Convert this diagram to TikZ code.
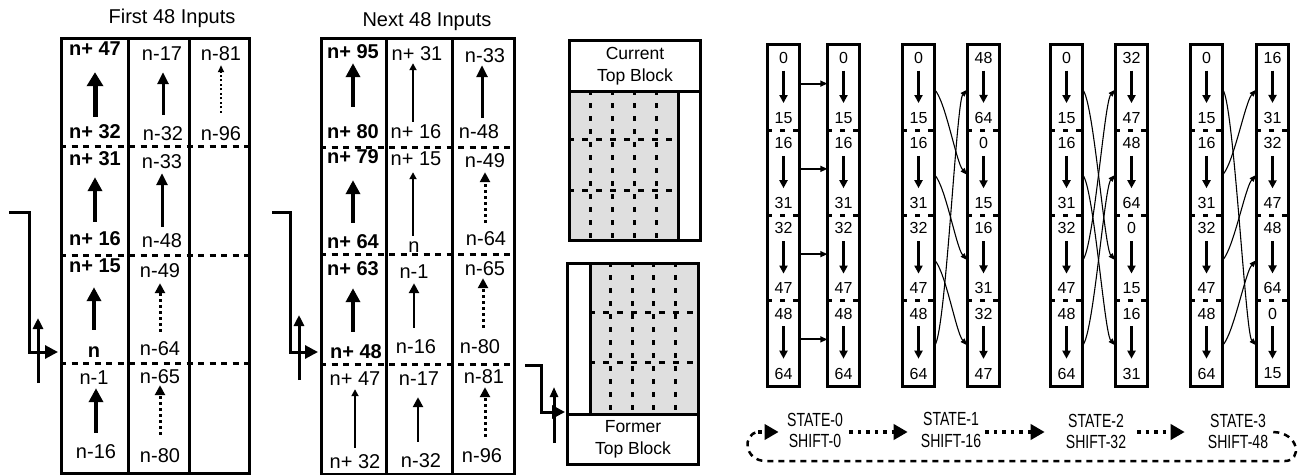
\documentclass[tikz,border=0pt]{standalone}
\usepackage{fontspec}
\setmainfont{Liberation Sans}
\newfontfamily\condfont[FakeStretch=0.74]{Liberation Sans}
\usetikzlibrary{arrows.meta,calc,fit}
\tikzset{
  box/.style={draw, line width=3pt, inner sep=0pt, anchor=north west},
  lab/.style={font=\fontsize{20}{24}\selectfont, inner sep=0pt, anchor=base, text height=14pt, text depth=0pt},
  blab/.style={lab, font=\fontsize{20}{24}\selectfont\bfseries},
  ttl/.style={font=\fontsize{20}{24}\selectfont, inner sep=0pt, anchor=base},
  hugearr/.style={line width=5pt, -{Triangle[length=14pt,width=16pt]}},
  bigarr/.style={line width=3.5pt, -{Triangle[length=14pt,width=14pt]}},
  midarr/.style={line width=3pt, -{Triangle[length=12pt,width=11pt]}},
  medarr/.style={line width=2.7pt, -{Triangle[length=10pt,width=10pt]}},
  thinarr/.style={line width=2.5pt, -{Triangle[length=7pt,width=7pt]}},
  dotarr/.style={line width=3pt, dash pattern=on 3pt off 3pt, -{Triangle[length=10pt,width=10pt]}},
  dotsm/.style={line width=2pt, dash pattern=on 2pt off 2.5pt, -{Triangle[length=7pt,width=6pt]}},
  hdash/.style={line width=3pt, dash pattern=on 6pt off 5.5pt},
  hdashg/.style={line width=3pt, dash pattern=on 6pt off 8pt},
  vdash/.style={line width=3pt, dash pattern=on 5pt off 8pt},
  inarr/.style={line width=3pt, -{Triangle[length=13pt,width=13pt]}},
  uparr/.style={line width=3pt, -{Triangle[length=11pt,width=10pt]}},
  seg/.style={minimum width=32pt, minimum height=85.25pt, inner sep=0pt},
  num/.style={font=\fontsize{16}{19}\selectfont, inner sep=0pt},
  colbox/.style={draw, line width=3pt, inner sep=0pt},
  sdash/.style={line width=3pt, dash pattern=on 5pt off 8pt},
  rarr/.style={line width=2.2pt, shorten <=7pt, shorten >=9pt, -{Triangle[length=8pt,width=8pt]}},
  harr/.style={line width=2pt, -{Triangle[length=7pt,width=6pt]}},
  carr/.style={line width=1.1pt, -{Triangle[length=7pt,width=5pt]}},
  leg/.style={font=\fontsize{19}{22}\condfont, inner sep=0pt, anchor=base},
  legarr/.style={line width=3.5pt, dash pattern=on 3.5pt off 5pt, -{Triangle[length=14pt,width=15pt]}},
  loopdash/.style={line width=2.5pt, dash pattern=on 6pt off 5pt},
}
\newcommand\statecol[3]{%
  \foreach \i/\tp/\bt in {#3}{%
    \node[seg] (#1\i) at (#2,{45+85.25*(\i-1)+42.625}) {};
    \node[num] (#1t\i) at ($(#1\i.north)+(0,13)$) {\tp};
    \node[num] (#1b\i) at ($(#1\i.north)+(0,73)$) {\bt};
    \draw[rarr] (#1t\i) -- (#1b\i);
  }%
  \node[colbox, fit=(#11)(#14)] (#1) {};
  \foreach \i in {2,3,4}{\draw[sdash] (#1\i.north west) -- (#1\i.north east);}%
}
\newcommand\crvd[2]{\draw[carr] ([yshift=-2pt]#1.east) .. controls +(11,12) and +(-11,-12) .. ([yshift=-2pt]#2.west);}
\newcommand\crvu[2]{\draw[carr] ([yshift=-2pt]#1.east) .. controls +(11,-12) and +(-11,12) .. ([yshift=-2pt]#2.west);}
\begin{document}
\begin{tikzpicture}[x=1pt,y=-1pt]
\useasboundingbox (0,0) rectangle (1308,474);

% ---------------- First 48 inputs ----------------
\node[ttl] (t1) at (172,23) {First 48 Inputs};
\node[box, minimum width=67pt, minimum height=435pt] (L1) at (60,37) {};
\node[box, minimum width=61pt, minimum height=435pt] (L2) at (127,37) {};
\node[box, minimum width=60pt, minimum height=435pt] (L3) at (188,37) {};
\foreach \y in {146,255,363} \draw[hdash] (60,\y) -- (248,\y);

\node[blab] (a1t) at (95,55) {n+ 47};
\node[blab] (a1b) at (95,138) {n+ 32};
\node[blab] (a2t) at (95,165) {n+ 31};
\node[blab] (a2b) at (95,245) {n+ 16};
\node[blab] (a3t) at (95,272) {n+ 15};
\node[blab] (a3b) at (94,357) {n};
\node[lab] (a4t) at (94,384) {n-1};
\node[lab] (a4b) at (96,458) {n-16};
\draw[hugearr, shorten <=7pt, shorten >=17pt] (a1b.north) -- (a1t.south);
\draw[bigarr, shorten <=9pt, shorten >=12pt] (a2b.north) -- (a2t.south);
\draw[bigarr, shorten <=13pt, shorten >=15pt] (a3b.north) -- (a3b.north |- a3t.south);
\draw[bigarr, shorten <=11pt, shorten >=4pt] (a4b.north) -- (a4b.north |- a4t.south);

\node[lab] (b1t) at (162,60) {n-17};
\node[lab] (b1b) at (163,140) {n-32};
\node[lab] (b2t) at (162,168) {n-33};
\node[lab] (b2b) at (162,247) {n-48};
\node[lab] (b3t) at (160,277) {n-49};
\node[lab] (b3b) at (160,355) {n-64};
\node[lab] (b4t) at (160,383) {n-65};
\node[lab] (b4b) at (160,462) {n-80};
\draw[midarr, shorten <=11pt, shorten >=12pt] (b1b.north) -- (b1b.north |- b1t.south);
\draw[midarr, shorten <=6pt, shorten >=5pt] (b2b.north) -- (b2b.north |- b2t.south);
\draw[dotarr, shorten <=9pt, shorten >=6pt] (b3b.north) -- (b3b.north |- b3t.south);
\draw[dotarr, shorten <=13pt, shorten >=2pt] (b4b.north) -- (b4b.north |- b4t.south);

\node[lab] (c1t) at (221,60) {n-81};
\node[lab] (c1b) at (221,140) {n-96};
\draw[dotsm, shorten <=13pt, shorten >=5pt] (c1b.north) -- (c1t.south);

\coordinate (inL) at (9,212);
\coordinate (inLk) at (29,352);
\draw[inarr, shorten >=2pt] (inL) -| (inLk) -- (inLk -| L1.west);
\coordinate (upL0) at (38,383);
\coordinate (upL1) at (38,318);
\draw[uparr] (upL0) -- (upL1);

% ---------------- Next 48 inputs ----------------
\node[ttl] (t2) at (427,26) {Next 48 Inputs};
\node[box, minimum width=65pt, minimum height=436pt] (M1) at (320,37) {};
\node[box, minimum width=66pt, minimum height=436pt] (M2) at (385,37) {};
\node[box, minimum width=62pt, minimum height=436pt] (M3) at (451,37) {};
\foreach \y in {147,254,364} \draw[hdash] (320,\y) -- (513,\y);

\node[blab] (d1t) at (353,58) {n+ 95};
\node[blab] (d1b) at (353,138) {n+ 80};
\node[blab] (d2t) at (353,163) {n+ 79};
\node[blab] (d2b) at (353,248) {n+ 64};
\node[blab] (d3t) at (353,275) {n+ 63};
\node[blab] (d3b) at (356,358) {n+ 48};
\node[lab] (d4t) at (355,385) {n+ 47};
\node[lab] (d4b) at (355,468) {n+ 32};
\draw[bigarr, shorten <=17pt, shorten >=5pt] (d1b.north) -- (d1t.south);
\draw[bigarr, shorten <=11pt, shorten >=17pt] (d2b.north) -- (d2t.south);
\draw[bigarr, shorten <=12pt, shorten >=13pt] (d3t.south |- d3b.north) -- (d3t.south);
\draw[thinarr, shorten <=6pt, shorten >=4pt] (d4b.north) -- (d4t.south);

\node[lab] (e1t) at (417,60) {n+ 31};
\node[lab] (e1b) at (416,138) {n+ 16};
\node[lab] (e2t) at (416,165) {n+ 15};
\node[lab] (e2b) at (414,252) {n};
\node[lab] (e3t) at (414,278) {n-1};
\node[lab] (e3b) at (416,353) {n-16};
\node[lab] (e4t) at (419,385) {n-17};
\node[lab] (e4b) at (421,467) {n-32};
\draw[thinarr, shorten <=2pt, shorten >=3pt] (e1b.north -| 413,0) -- (e1t.south -| 413,0);
\draw[thinarr, shorten <=2pt, shorten >=7pt] (e2b.north -| 413,0) -- (e2t.south -| 413,0);
\draw[medarr, shorten <=11pt, shorten >=5pt] (e3b.north -| 414,0) -- (e3t.south -| 414,0);
\draw[medarr, shorten <=11pt, shorten >=12pt] (e4b.north -| 418,0) -- (e4t.south -| 418,0);

\node[lab] (f1t) at (485,62) {n-33};
\node[lab] (f1b) at (479,138) {n-48};
\node[lab] (f2t) at (485,167) {n-49};
\node[lab] (f2b) at (486,245) {n-64};
\node[lab] (f3t) at (485,275) {n-65};
\node[lab] (f3b) at (480,353) {n-80};
\node[lab] (f4t) at (484,383) {n-81};
\node[lab] (f4b) at (482,462) {n-96};
\draw[midarr, shorten <=6pt, shorten >=3pt] (f1b.north -| 482,0) -- (f1t.south -| 482,0);
\draw[dotarr, shorten <=8pt, shorten >=5pt] (f2b.north -| 485,0) -- (f2t.south -| 485,0);
\draw[dotarr, shorten <=11pt, shorten >=3pt] (f3b.north -| 483,0) -- (f3t.south -| 483,0);
\draw[dotarr, shorten <=11pt, shorten >=4pt] (f4b.north -| 485,0) -- (f4t.south -| 485,0);

\coordinate (inM) at (272,212);
\coordinate (inMk) at (290,352);
\draw[inarr, shorten >=2pt] (inM) -| (inMk) -- (inMk -| M1.west);
\coordinate (upM0) at (299,380);
\coordinate (upM1) at (299,315);
\draw[uparr] (upM0) -- (upM1);

% ---------------- Current top block ----------------
\node[box, fill=gray!25, minimum width=109pt, minimum height=149pt] (CBg) at (568,90) {};
\foreach \x in {590,612,634,656} \draw[vdash] (\x,90) -- (\x,239);
\foreach \y in {139,190} \draw[hdashg] (568,\y) -- (677,\y);
\node[box, minimum width=131pt, minimum height=51pt, align=center, font=\fontsize{17.5}{22}\selectfont] (CBh) at (568,39) {Current\\Top Block};
\node[box, minimum width=131pt, minimum height=200pt] (CB) at (568,39) {};

% ---------------- Former top block ----------------
\node[box, fill=gray!25, minimum width=108pt, minimum height=151pt] (FBg) at (589,262) {};
\foreach \x in {610,632,653,675} \draw[vdash] (\x,262) -- (\x,413);
\foreach \y in {312,362} \draw[hdashg] (589,\y) -- (697,\y);
\node[box, minimum width=131pt, minimum height=50pt, align=center, font=\fontsize{17.5}{22}\selectfont] (FBf) at (566,413) {Former\\Top Block};
\node[box, minimum width=131pt, minimum height=201pt] (FB) at (566,262) {};

\coordinate (inF) at (525,365);
\coordinate (inFk) at (541,412);
\draw[inarr, shorten >=1pt] (inF) -| (inFk) -- (inFk -| FB.west);
\coordinate (upF0) at (554,443);
\coordinate (upF1) at (554,387);
\draw[line width=3pt, -{Triangle[length=10pt,width=8pt]}] (upF0) -- (upF1);

% ---------------- State columns ----------------
\statecol{pa}{783.5}{1/0/15,2/16/31,3/32/47,4/48/64}
\statecol{pb}{843.5}{1/0/15,2/16/31,3/32/47,4/48/64}
\statecol{qa}{918.5}{1/0/15,2/16/31,3/32/47,4/48/64}
\statecol{qb}{983.5}{1/48/64,2/0/15,3/16/31,4/32/47}
\statecol{ra}{1066.5}{1/0/15,2/16/31,3/32/47,4/48/64}
\statecol{rb}{1131.5}{1/32/47,2/48/64,3/0/15,4/16/31}
\statecol{sa}{1206.5}{1/0/15,2/16/31,3/32/47,4/48/64}
\statecol{sb}{1272.5}{1/16/31,2/32/47,3/48/64,4/0/15}

\foreach \i in {1,...,4} \draw[harr] ([yshift=4pt]pa\i.east) -- ([yshift=4pt]pb\i.west);

\crvd{qa1}{qb2} \crvd{qa2}{qb3} \crvd{qa3}{qb4} \crvu{qa4}{qb1}
\crvd{ra1}{rb3} \crvd{ra2}{rb4} \crvu{ra3}{rb1} \crvu{ra4}{rb2}
\crvd{sa1}{sb4} \crvu{sa2}{sb1} \crvu{sa3}{sb2} \crvu{sa4}{sb3}

% ---------------- Legend ----------------
\node[leg] (st0) at (815,426) {STATE-0};
\node[leg] (sh0) at (815,447) {SHIFT-0};
\node[leg] (st1) at (951,425) {STATE-1};
\node[leg] (sh1) at (951,447) {SHIFT-16};
\node[leg] (st2) at (1096,427) {STATE-2};
\node[leg] (sh2) at (1096,448) {SHIFT-32};
\node[leg] (st3) at (1238,427) {STATE-3};
\node[leg] (sh3) at (1238,448) {SHIFT-48};
\coordinate (lpL) at (758,432);
\draw[legarr, shorten >=10pt] (lpL) -- (lpL -| sh0.west);
\draw[legarr, shorten <=8pt, shorten >=13pt] (sh0.east |- lpL) -- (sh1.west |- lpL);
\draw[legarr, shorten <=4pt, shorten >=21pt] (sh1.east |- lpL) -- (sh2.west |- lpL);
\draw[legarr, shorten <=11pt, shorten >=23pt] (sh2.east |- lpL) -- (sh3.west |- lpL);
\draw[loopdash] ([xshift=5pt]sh3.east |- lpL) .. controls (1300,433) and (1302,461) .. (1285,461) -- (766,461) .. controls (744,461) and (742,434) .. (lpL);
\end{tikzpicture}
\end{document}
